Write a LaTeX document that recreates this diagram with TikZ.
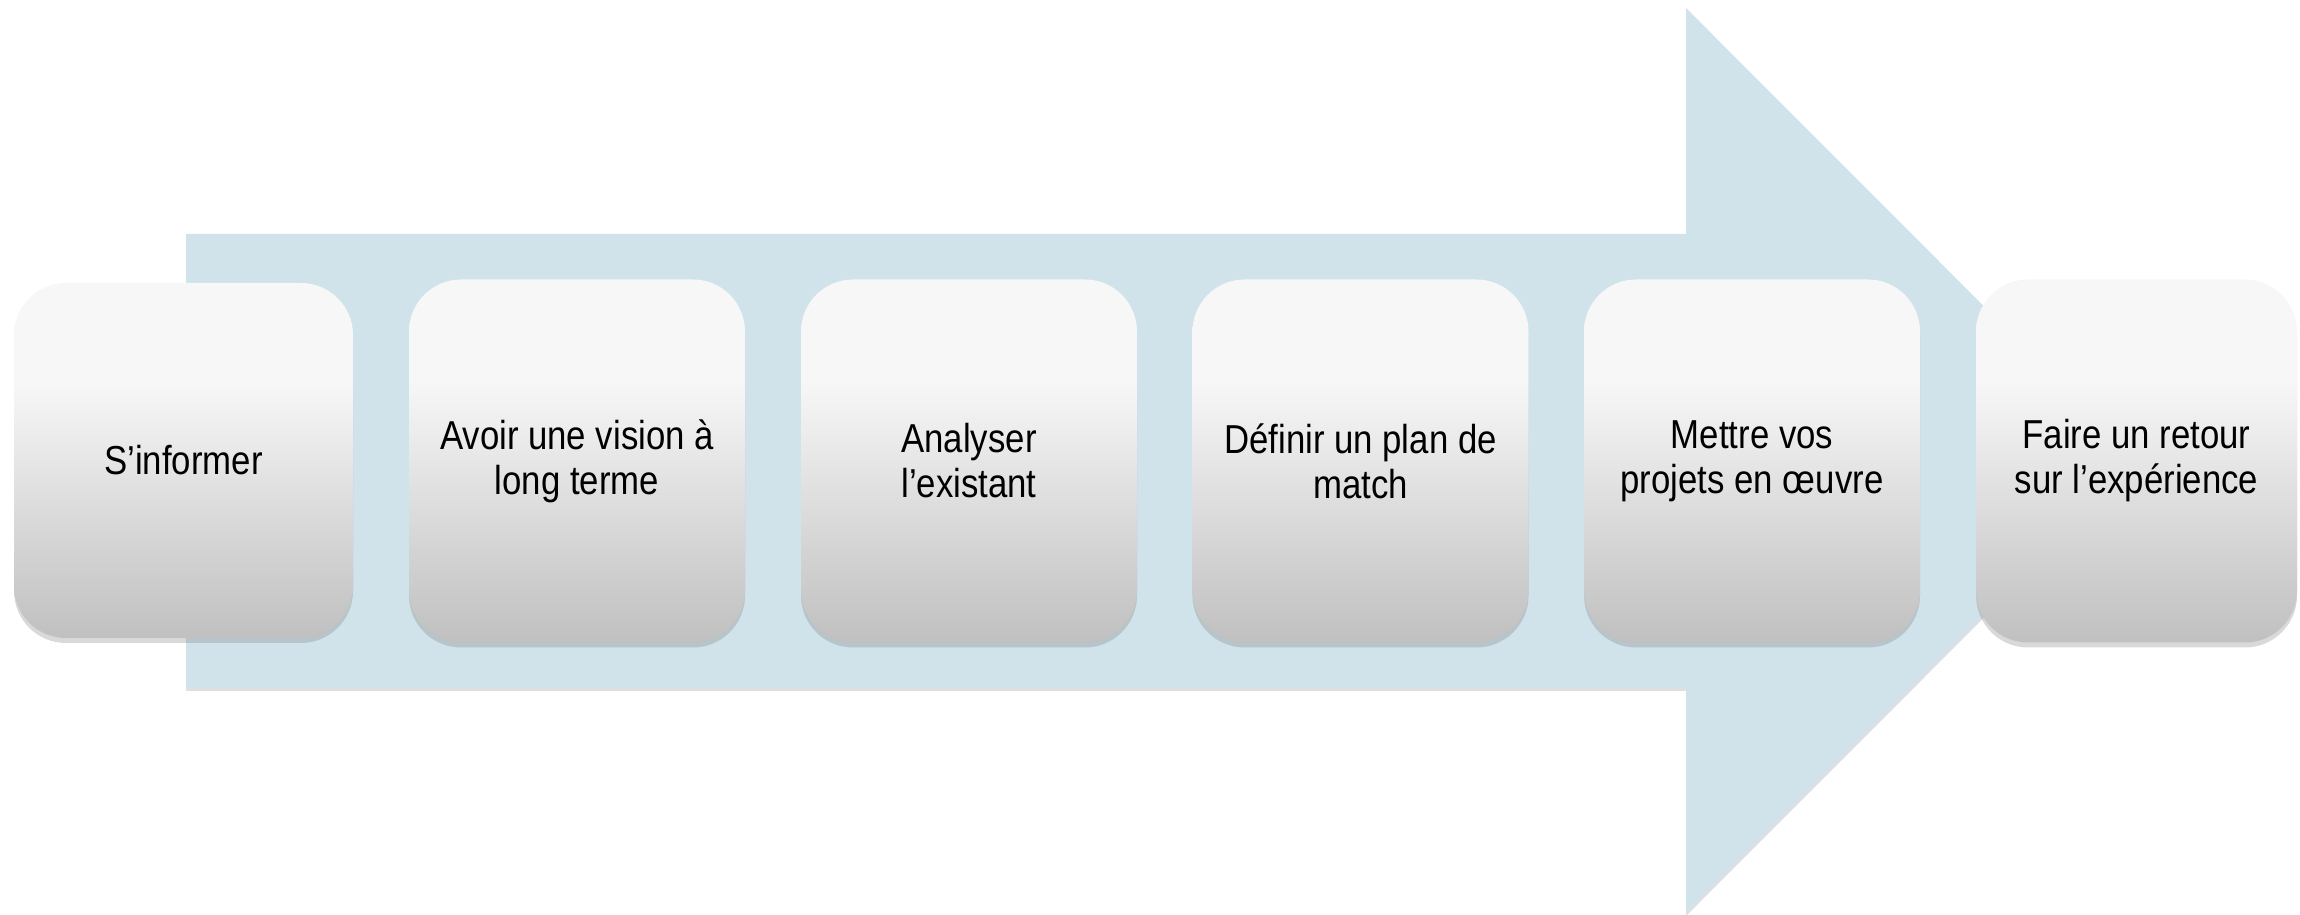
\documentclass[tikz,border=0pt]{standalone}
\usepackage{fontspec}
\setmainfont{Liberation Sans}[FakeStretch=0.86]
\usetikzlibrary{positioning, shadows}

\definecolor{arrowblue}{RGB}{208,226,234}
\definecolor{boxtop}{RGB}{247,247,247}
\definecolor{boxbottom}{RGB}{192,192,192}

\pgfdeclareverticalshading{boxfade}{100bp}{color(0bp)=(boxbottom); color(25bp)=(boxbottom); color(61bp)=(boxtop); color(100bp)=(boxtop)}

\begin{document}
\begin{tikzpicture}[
    stage/.style={rectangle, rounded corners=0.52cm, shade, shading=boxfade,
                  minimum width=3.36cm, minimum height=3.63cm, inner sep=0pt, align=center,
                  font=\fontsize{11.5pt}{12.8pt}\selectfont,
                  drop shadow={shadow xshift=0cm, shadow yshift=-0.05cm, opacity=0.3}},
    bigarrow/.style={fill=arrowblue,
                  drop shadow={shadow xshift=0cm, shadow yshift=-0.03cm, opacity=0.25}}
]

    \useasboundingbox (0, 0) rectangle (23, 9.15);

    % Background arrow
    \path[bigarrow] (1.86, 6.81) -- (16.86, 6.81) -- (16.86, 9.07) -- (21.38, 4.545)
        -- (16.86, 0.02) -- (16.86, 2.27) -- (1.86, 2.27) -- cycle;

    % Steps
    \node[stage, minimum width=3.39cm, minimum height=3.55cm] (inform) at (1.835, 4.545) {S’informer};
    \node[stage] (vision) at (5.77, 4.54) {Avoir une vision à\\long terme};
    \node[stage] (analyse) at (9.69, 4.54) {Analyser\\l’existant};
    \node[stage] (plan) at (13.605, 4.54) {Définir un plan de\\match};
    \node[stage] (projets) at (17.52, 4.54) {Mettre vos\\projets en œuvre};
    \node[stage, minimum width=3.21cm] (retour) at (21.365, 4.54) {Faire un retour\\sur l’expérience};

\end{tikzpicture}
\end{document}
